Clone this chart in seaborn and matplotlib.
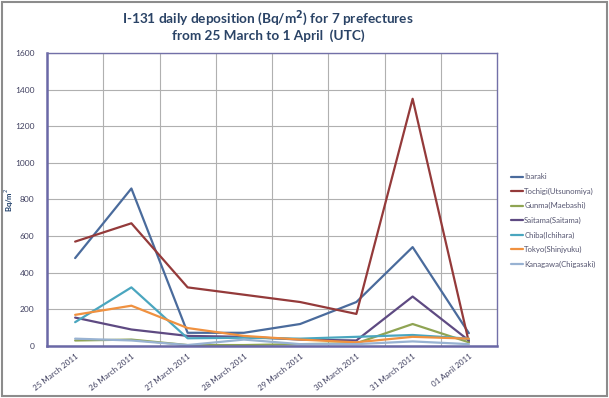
import pandas as pd
import numpy as np
import matplotlib
matplotlib.use('Agg')
import matplotlib.pyplot as plt
import seaborn as sns
from matplotlib.patches import Rectangle

# data (Bq/m2)
dates = ['25 March 2011', '26 March 2011', '27 March 2011', '28 March 2011',
         '29 March 2011', '30 March 2011', '31 March 2011', '01 April 2011']

ibaraki = [480, 860, 72, 72, 120, 240, 540, 70]
tochigi = [570, 670, 320, 280, 240, 175, 1350, 20]
gunma = [30, 35, 5, 5, 10, 15, 120, 20]
saitama = [155, 90, 55, 50, 35, 30, 270, 30]
chiba = [130, 320, 42, 45, 40, 50, 60, 40]
tokyo = [170, 220, 98, 55, 35, 20, 50, 40]
kanagawa = [40, 30, 5, 35, 10, 10, 25, 10]

prefectures = ['Ibaraki', 'Tochigi(Utsunomiya)', 'Gunma(Maebashi)', 'Saitama(Saitama)',
               'Chiba(Ichihara)', 'Tokyo(Shinjyuku)', 'Kanagawa(Chigasaki)']
colors = ['#4a6b9c', '#943a3a', '#8fa453', '#5e4a82', '#4aa6bf', '#f0913f', '#98b2d2']

series = [ibaraki, tochigi, gunma, saitama, chiba, tokyo, kanagawa]
df = pd.concat([pd.DataFrame({'date': dates, 'value': vals, 'prefecture': name})
                for name, vals in zip(prefectures, series)], ignore_index=True)

sns.set_style('white')
plt.rcParams['font.family'] = ['Lato', 'DejaVu Sans']
fig = plt.figure(figsize=(6.09, 3.98), dpi=100)
ax = fig.add_axes([0.0772, 0.1307, 0.7389, 0.7362])

sns.lineplot(data=df, x='date', y='value', hue='prefecture', palette=colors,
             sort=False, linewidth=1.6, ax=ax, legend=True)

ax.set_xlim(-0.5, 7.5)
ax.set_ylim(0, 1600)
ax.set_yticks(np.arange(0, 1601, 200))
ax.set_xticks(range(len(dates)))
ax.set_xticks(np.arange(0.5, 7.5, 1), minor=True)
ax.set_xticklabels(dates, rotation=38, ha='right', rotation_mode='anchor',
                   fontsize=5.8, color='#404060')
ax.tick_params(axis='y', labelsize=6, labelcolor='#404060', length=0, pad=9)
ax.tick_params(axis='x', which='both', length=0, pad=5)
ax.grid(axis='y', color='#b0b0b0', linewidth=0.8)
ax.grid(axis='x', which='minor', color='#b0b0b0', linewidth=0.8)
ax.grid(axis='x', which='major', visible=False)
ax.set_axisbelow(True)

for side in ['left', 'bottom']:
    ax.spines[side].set_color('#6a68a6')
    ax.spines[side].set_linewidth(1.8)
for side in ['top', 'right']:
    ax.spines[side].set_color('#7270a8')
    ax.spines[side].set_linewidth(1.0)

ax.set_xlabel('')
ax.set_ylabel('Bq/m$^2$', fontsize=5.5, fontweight='bold', color='#1f3f6a')
ax.yaxis.set_label_coords(-0.07, 0.5)

leg = ax.legend(loc='upper left', bbox_to_anchor=(1.025, 0.6), frameon=False,
                fontsize=5.6, handlelength=1.5, handletextpad=0.15,
                labelspacing=0.95, borderaxespad=0)
for text in leg.get_texts():
    text.set_color('#555570')
for line in leg.get_lines():
    line.set_linewidth(1.6)

fig.text(0.44, 0.955, 'I-131 daily deposition (Bq/m$^\\mathbf{2}$) for 7 prefectures',
         ha='center', va='center', fontsize=9.8, fontweight='bold', color='#2a4366')
fig.text(0.44, 0.91, 'from 25 March to 1 April  (UTC)',
         ha='center', va='center', fontsize=9.8, fontweight='bold', color='#2a4366')

# outer chart frame
fig.patches.append(Rectangle((0.003, 0.004), 0.994, 0.992, transform=fig.transFigure,
                             fill=False, edgecolor='#8c8c8c', linewidth=1.5))

fig.savefig('out.png', dpi=100)
